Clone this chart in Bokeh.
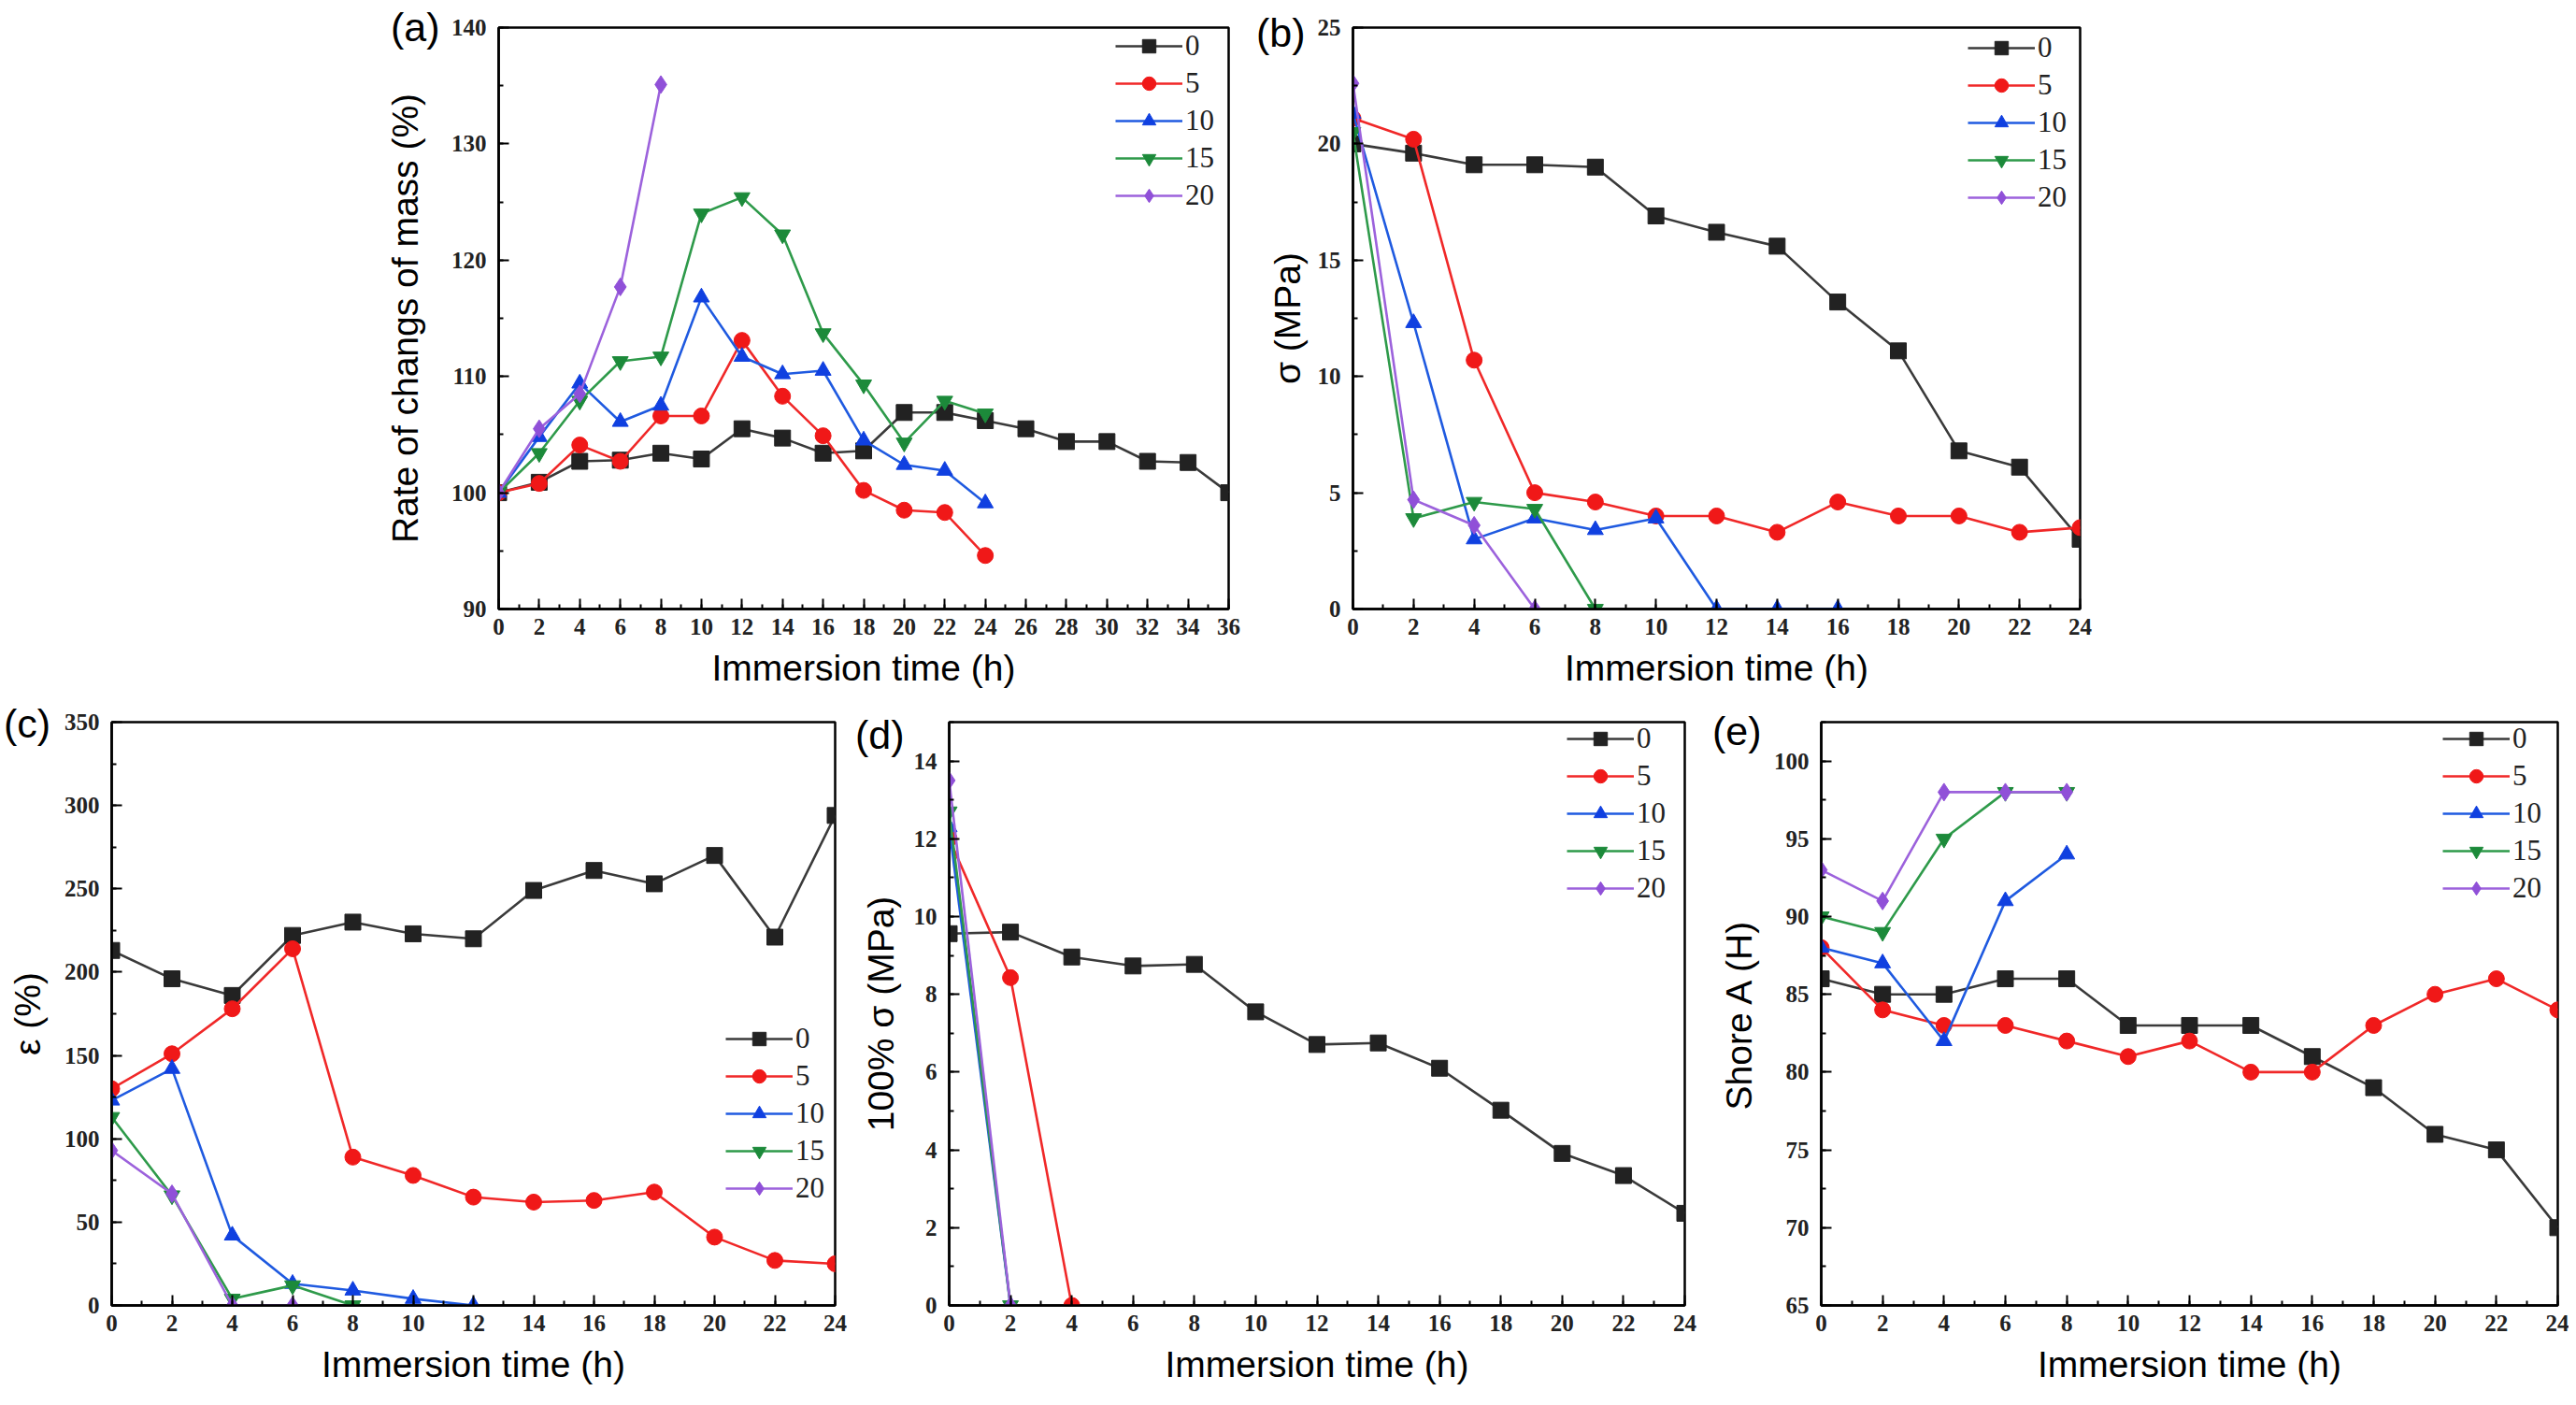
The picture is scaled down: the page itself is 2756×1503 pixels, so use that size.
from bokeh.plotting import figure
from bokeh.layouts import row, column, Spacer
from bokeh.models import Range1d, SingleIntervalTicker, Legend, LegendItem, Div, InlineStyleSheet
from bokeh.embed import file_html
from bokeh.resources import INLINE

# ---------------- data ----------------
series_names = ["0", "5", "10", "15", "20"]
series_colors = ["#3a3a3a", "#f02828", "#1f5ae0", "#2e9a4a", "#9c62dc"]
marker_colors = ["#222222", "#f01818", "#1040e0", "#1c8a3a", "#9050d8"]
series_markers = ["square", "circle", "triangle", "inverted_triangle", "diamond"]

# (a) Rate of change of mass (%)
a_t0 = [0, 2, 4, 6, 8, 10, 12, 14, 16, 18, 20, 22, 24, 26, 28, 30, 32, 34, 36]
a_y0 = [100, 100.9, 102.7, 102.8, 103.4, 102.9, 105.5, 104.7, 103.4, 103.6, 106.9, 106.9, 106.2, 105.5, 104.4, 104.4, 102.7, 102.6, 100]
a_t5 = [0, 2, 4, 6, 8, 10, 12, 14, 16, 18, 20, 22, 24]
a_y5 = [100, 100.8, 104.1, 102.7, 106.6, 106.6, 113.1, 108.3, 104.9, 100.2, 98.5, 98.3, 94.6]
a_t10 = [0, 2, 4, 6, 8, 10, 12, 14, 16, 18, 20, 22, 24]
a_y10 = [100, 104.8, 109.4, 106.1, 107.5, 116.8, 111.7, 110.2, 110.5, 104.5, 102.4, 101.9, 99.1]
a_t15 = [0, 2, 4, 6, 8, 10, 12, 14, 16, 18, 20, 22, 24]
a_y15 = [100, 103.4, 107.9, 111.3, 111.7, 124.0, 125.4, 122.2, 113.7, 109.3, 104.3, 107.9, 106.8]
a_t20 = [0, 2, 4, 6, 8]
a_y20 = [100, 105.5, 108.5, 117.7, 135.1]

# (b) sigma (MPa)
b_t0 = [0, 2, 4, 6, 8, 10, 12, 14, 16, 18, 20, 22, 24]
b_y0 = [20.0, 19.6, 19.1, 19.1, 19.0, 16.9, 16.2, 15.6, 13.2, 11.1, 6.8, 6.1, 3.0]
b_t5 = [0, 2, 4, 6, 8, 10, 12, 14, 16, 18, 20, 22, 24]
b_y5 = [21.1, 20.2, 10.7, 5.0, 4.6, 4.0, 4.0, 3.3, 4.6, 4.0, 4.0, 3.3, 3.5]
b_t10 = [0, 2, 4, 6, 8, 10, 12, 14, 16]
b_y10 = [21.3, 12.3, 3.0, 3.9, 3.4, 3.9, 0, 0, 0]
b_t15 = [0, 2, 4, 6, 8]
b_y15 = [20.5, 3.9, 4.6, 4.3, 0]
b_t20 = [0, 2, 4, 6]
b_y20 = [22.6, 4.7, 3.6, 0]

# (c) epsilon (%)
c_t0 = [0, 2, 4, 6, 8, 10, 12, 14, 16, 18, 20, 22, 24]
c_y0 = [213, 196, 186, 222, 230, 223, 220, 249, 261, 253, 270, 221, 294]
c_t5 = [0, 2, 4, 6, 8, 10, 12, 14, 16, 18, 20, 22, 24]
c_y5 = [130, 151, 178, 214, 89, 78, 65, 62, 63, 68, 41, 27, 25]
c_t10 = [0, 2, 4, 6, 8, 10, 12]
c_y10 = [123, 142, 42, 13, 9, 4, 0]
c_t15 = [0, 2, 4, 6, 8]
c_y15 = [113, 66, 4, 12, 0]
c_t20 = [0, 2, 4, 6]
c_y20 = [93, 67, 0, 0]

# (d) 100% sigma (MPa)
d_t0 = [0, 2, 4, 6, 8, 10, 12, 14, 16, 18, 20, 22, 24]
d_y0 = [9.56, 9.6, 8.96, 8.73, 8.77, 7.55, 6.71, 6.75, 6.1, 5.02, 3.91, 3.34, 2.37]
d_t5 = [0, 2, 4]
d_y5 = [12.0, 8.43, 0]
d_t10 = [0, 2]
d_y10 = [12.3, 0]
d_t15 = [0, 2]
d_y15 = [12.7, 0]
d_t20 = [0, 2]
d_y20 = [13.5, 0]

# (e) Shore A (H)
e_t0 = [0, 2, 4, 6, 8, 10, 12, 14, 16, 18, 20, 22, 24]
e_y0 = [86, 85, 85, 86, 86, 83, 83, 83, 81, 79, 76, 75, 70]
e_t5 = [0, 2, 4, 6, 8, 10, 12, 14, 16, 18, 20, 22, 24]
e_y5 = [88, 84, 83, 83, 82, 81, 82, 80, 80, 83, 85, 86, 84]
e_t10 = [0, 2, 4, 6, 8]
e_y10 = [88, 87, 82, 91, 94]
e_t15 = [0, 2, 4, 6, 8]
e_y15 = [90, 89, 95, 98, 98]
e_t20 = [0, 2, 4, 6, 8]
e_y20 = [93, 91, 98, 98, 98]

x_label = "Immersion time (h)"
panel_tags = ["(a)", "(b)", "(c)", "(d)", "(e)"]

TICK_FONT = "Liberation Serif"
LABEL_FONT = "Liberation Sans"


def make_panel(ylabel, xs, ys, xr, yr, xint, yint,
               bl, fw, br, bt, fh, bb, legend_xy, ylab_standoff=12):
    p = figure(width=bl + fw + br, height=bt + fh + bb,
               min_border_left=bl, min_border_right=br,
               min_border_top=bt, min_border_bottom=bb,
               output_backend="svg", toolbar_location=None,
               x_range=Range1d(*xr), y_range=Range1d(*yr))
    p.xgrid.visible = False
    p.ygrid.visible = False
    p.outline_line_color = "black"
    p.outline_line_width = 2.5
    p.outline_line_alpha = 1.0
    p.background_fill_color = "white"
    p.border_fill_color = "white"

    p.xaxis.ticker = SingleIntervalTicker(interval=xint, num_minor_ticks=2)
    p.yaxis.ticker = SingleIntervalTicker(interval=yint, num_minor_ticks=2)
    for ax in (p.xaxis[0], p.yaxis[0]):
        ax.axis_line_width = 2.5
        ax.axis_line_color = "black"
        ax.major_tick_in = 11
        ax.major_tick_out = 0
        ax.minor_tick_in = 5
        ax.minor_tick_out = 0
        ax.major_tick_line_width = 2
        ax.minor_tick_line_width = 2
        ax.major_label_text_font = TICK_FONT
        ax.major_label_text_font_size = "25px"
        ax.major_label_text_font_style = "bold"
        ax.major_label_text_color = "#222222"
        ax.axis_label_text_font = LABEL_FONT
        ax.axis_label_text_font_size = "39px"
        ax.axis_label_text_font_style = "normal"
        ax.axis_label_text_color = "black"
    p.xaxis.major_label_standoff = 10
    p.yaxis.major_label_standoff = 13
    p.xaxis.axis_label = x_label
    p.xaxis.axis_label_standoff = 11
    p.yaxis.axis_label = ylabel
    p.yaxis.axis_label_standoff = ylab_standoff

    items = []
    for i in range(5):
        ln = p.line(xs[i], ys[i], line_color=series_colors[i], line_width=2.6)
        sc = p.scatter(xs[i], ys[i], marker=series_markers[i],
                       size=17 if series_markers[i] != "diamond" else 19,
                       fill_color=marker_colors[i], line_color=marker_colors[i])
        items.append(LegendItem(label=series_names[i], renderers=[ln, sc]))

    leg = Legend(items=items, location=legend_xy)
    leg.background_fill_alpha = 0
    leg.border_line_alpha = 0
    leg.label_text_font = TICK_FONT
    leg.label_text_font_size = "31px"
    leg.label_text_color = "#222222"
    leg.glyph_width = 72
    leg.glyph_height = 36
    leg.label_height = 36
    leg.spacing = 4
    leg.padding = 5
    leg.margin = 0
    leg.label_standoff = 3
    p.add_layout(leg)
    return p


def make_tag(text, left, top):
    css = (":host { position: absolute !important; left: %dpx !important; "
           "top: %dpx !important; margin: 0 !important; }" % (left, top))
    return Div(text=text, width=80, height=55,
               stylesheets=[InlineStyleSheet(css=css)],
               styles={"font-family": LABEL_FONT, "font-size": "43px",
                       "line-height": "1.15", "color": "black"})


pa = make_panel("Rate of changs of mass (%)",
                [a_t0, a_t5, a_t10, a_t15, a_t20], [a_y0, a_y5, a_y10, a_y15, a_y20],
                (0, 36), (90, 140), 2, 10,
                bl=153, fw=781, br=21, bt=15, fh=628, bb=99,
                legend_xy=(655, 419), ylab_standoff=25)
pb = make_panel("σ (MPa)",
                [b_t0, b_t5, b_t10, b_t15, b_t20], [b_y0, b_y5, b_y10, b_y15, b_y20],
                (0, 24), (0, 25), 2, 5,
                bl=112, fw=778, br=23, bt=21, fh=627, bb=94,
                legend_xy=(653, 417), ylab_standoff=8)
pc = make_panel("ε (%)",
                [c_t0, c_t5, c_t10, c_t15, c_t20], [c_y0, c_y5, c_y10, c_y15, c_y20],
                (0, 24), (0, 350), 2, 50,
                bl=113, fw=776, br=17, bt=22, fh=624, bb=104,
                legend_xy=(652, 102), ylab_standoff=15)
pd_ = make_panel("100% σ (MPa)",
                 [d_t0, d_t5, d_t10, d_t15, d_t20], [d_y0, d_y5, d_y10, d_y15, d_y20],
                 (0, 24), (0, 15), 2, 2,
                 bl=105, fw=787, br=23, bt=22, fh=634, bb=94,
                 legend_xy=(656, 423), ylab_standoff=11)
pe = make_panel("Shore A (H)",
                [e_t0, e_t5, e_t10, e_t15, e_t20], [e_y0, e_y5, e_y10, e_y15, e_y20],
                (0, 24), (65, 102.5), 2, 5,
                bl=123, fw=788, br=12, bt=21, fh=635, bb=94,
                legend_xy=(660, 423), ylab_standoff=13)

tags = [make_tag(panel_tags[0], 418, 5),
        make_tag(panel_tags[1], 1344, 11),
        make_tag(panel_tags[2], 4, 750),
        make_tag(panel_tags[3], 915, 762),
        make_tag(panel_tags[4], 1832, 758)]

top = row(Spacer(width=380, height=742), pa, pb)
bottom = row(Spacer(width=4, height=750), pc, pd_, pe)
layout = column(Spacer(width=10, height=8), top, bottom, *tags)

open("out.html", "w").write(file_html(layout, INLINE))
